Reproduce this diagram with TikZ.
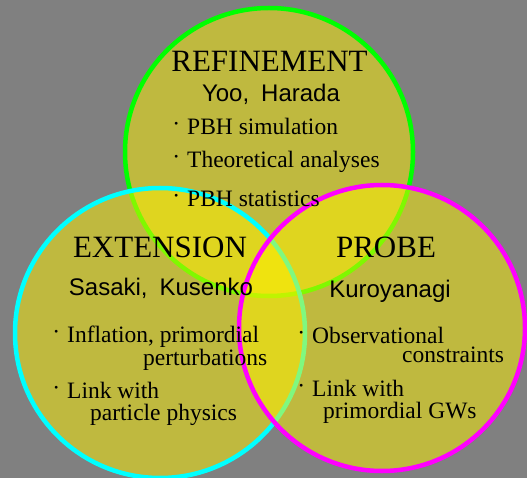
\documentclass[tikz,border=0pt]{standalone}
\usepackage{fontspec}
\setmainfont{Liberation Serif}
\newfontfamily\sansf{Liberation Sans}
\definecolor{bggray}{RGB}{128,128,128}
\definecolor{cgreen}{RGB}{0,255,0}
\definecolor{ccyan}{RGB}{0,255,255}
\definecolor{cmag}{RGB}{255,0,255}
\newcommand{\bul}{\llap{\raisebox{3pt}{\textperiodcentered}\hspace{7pt}}}
\begin{document}
\begin{tikzpicture}[x=1pt,y=-1pt,
  venn/.style={fill=yellow, fill opacity=0.5, line width=4.5pt},
  head/.style={font=\fontsize{31}{31}\selectfont, anchor=base, inner sep=0pt},
  names/.style={font=\sansf\fontsize{24}{24}\selectfont, anchor=base, inner sep=0pt},
  item/.style={font=\fontsize{23.5}{23.5}\selectfont, anchor=base west, inner sep=0pt}]
\fill[bggray] (0,0) rectangle (527,478);
\useasboundingbox (0,0) rectangle (527,478);
\path[venn, draw=cgreen] (269,152) circle[radius=144];
\path[venn, draw=ccyan] (160,333) circle[radius=145];
\path[venn, draw=cmag] (382,328) circle[radius=143];
% Refinement
\node[head] (rt) at (269.5,72) {REFINEMENT};
\node[names] (rn) at (271,102) {Yoo,\hspace{12pt}Harada};
\node[item] (r1) at (187,135) {\bul PBH simulation};
\node[item] (r2) at (187,168) {\bul Theoretical analyses};
\node[item] (r3) at (187,207) {\bul PBH statistics};
% Extension
\node[head] (et) at (160,258) {EXTENSION};
\node[names] (en) at (161,295) {Sasaki,\hspace{12pt}Kusenko};
\node[item] (e1) at (67,342) {\bul Inflation, primordial};
\node[item] (e1b) at (143,365) {perturbations};
\node[item] (e2) at (67,398) {\bul Link with};
\node[item] (e2b) at (90,420) {particle physics};
% Probe
\node[head] (pt) at (386,258) {PROBE};
\node[names] (pn) at (390,298) {Kuroyanagi};
\node[item] (p1) at (312,343) {\bul Observational};
\node[item] (p1b) at (402,362) {constraints};
\node[item] (p2) at (312,396) {\bul Link with};
\node[item] (p2b) at (323,418) {primordial GWs};
\end{tikzpicture}
\end{document}
